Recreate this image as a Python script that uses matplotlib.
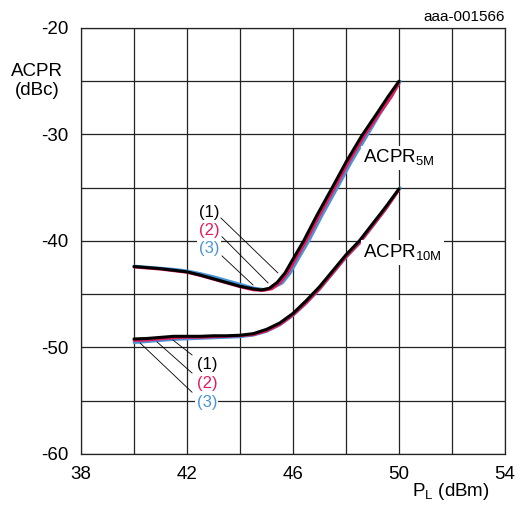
import numpy as np
import matplotlib
matplotlib.use("Agg")
import matplotlib.pyplot as plt
from matplotlib.ticker import MultipleLocator

plt.rcParams["font.family"] = ["Liberation Sans", "DejaVu Sans"]
plt.rcParams["mathtext.fontset"] = "custom"
plt.rcParams["mathtext.rm"] = "Liberation Sans"
plt.rcParams["axes.unicode_minus"] = False

BLACK = "#000000"
PINK = "#e5195e"
BLUE = "#4a95d5"

x_ticks = [38, 42, 46, 50, 54]
y_ticks = [-60, -50, -40, -30, -20]

# ACPR 5 MHz, curves (1) (2) (3)
x5_1 = [40, 40.5, 41, 41.5, 42, 42.5, 43, 43.5, 44, 44.5, 44.8, 45.1, 45.4, 45.7, 46.0, 46.4, 46.9, 47.5, 48.0, 48.6, 49.2, 49.6, 50.0]
y5_1 = [-42.4, -42.5, -42.6, -42.75, -42.9, -43.2, -43.55, -43.9, -44.25, -44.5, -44.6, -44.45, -43.9, -43.0, -41.7, -40.0, -37.6, -34.9, -32.6, -30.1, -27.9, -26.4, -25.0]
x5_2 = [40, 40.5, 41, 41.5, 42, 42.5, 43, 43.5, 44, 44.5, 44.9, 45.2, 45.5, 45.8, 46.1, 46.5, 47.0, 47.6, 48.1, 48.7, 49.3, 49.7, 50.0]
y5_2 = [-42.45, -42.55, -42.65, -42.8, -42.95, -43.25, -43.6, -43.95, -44.3, -44.6, -44.65, -44.5, -43.95, -43.0, -41.7, -40.0, -37.6, -34.9, -32.6, -30.1, -27.9, -26.5, -25.2]
x5_3 = [40, 40.5, 41, 41.5, 42, 42.5, 43, 43.5, 44, 44.5, 44.9, 45.2, 45.6, 45.9, 46.2, 46.6, 47.1, 47.7, 48.2, 48.8, 49.3, 49.7, 50.05]
y5_3 = [-42.35, -42.45, -42.55, -42.65, -42.8, -43.05, -43.35, -43.7, -44.05, -44.4, -44.55, -44.45, -43.95, -43.0, -41.7, -40.0, -37.6, -34.9, -32.6, -30.1, -28.0, -26.5, -25.0]

# ACPR 10 MHz, curves (1) (2) (3)
x10_1 = [40, 40.5, 41, 41.5, 42, 42.5, 43, 43.5, 44, 44.5, 45.0, 45.5, 46.0, 46.5, 47.0, 47.5, 48.0, 48.5, 49.0, 49.5, 50.0]
y10_1 = [-49.2, -49.15, -49.05, -48.95, -48.95, -48.95, -48.9, -48.9, -48.85, -48.7, -48.3, -47.7, -46.8, -45.6, -44.3, -42.8, -41.3, -40.0, -38.4, -36.8, -35.1]
x10_2 = [40, 40.5, 41, 41.5, 42, 42.5, 43, 43.5, 44, 44.5, 45.0, 45.5, 46.0, 46.5, 47.0, 47.5, 48.0, 48.5, 49.0, 49.5, 50.0]
y10_2 = [-49.35, -49.3, -49.2, -49.1, -49.05, -49.05, -49.0, -48.95, -48.9, -48.8, -48.45, -47.85, -46.95, -45.8, -44.5, -43.0, -41.5, -40.2, -38.6, -37.0, -35.2]
x10_3 = [40, 40.5, 41, 41.5, 42, 42.5, 43, 43.5, 44, 44.5, 45.0, 45.5, 46.0, 46.5, 47.0, 47.5, 48.0, 48.5, 49.0, 49.5, 50.05]
y10_3 = [-49.55, -49.45, -49.35, -49.25, -49.2, -49.15, -49.1, -49.05, -49.0, -48.85, -48.5, -47.9, -47.0, -45.85, -44.55, -43.05, -41.55, -40.25, -38.65, -37.0, -35.0]

fig = plt.figure(figsize=(5.25, 5.05), dpi=100)
ax = fig.add_axes([0.1543, 0.1010, 0.8076, 0.8436])

for xs, ys, col, lw in [
    (x5_3, y5_3, BLUE, 2.0), (x5_2, y5_2, PINK, 2.0), (x5_1, y5_1, BLACK, 2.2),
    (x10_3, y10_3, BLUE, 2.0), (x10_2, y10_2, PINK, 2.0), (x10_1, y10_1, BLACK, 2.2),
]:
    ax.plot(xs, ys, color=col, lw=lw, solid_capstyle="round", zorder=3)

ax.set_xlim(38, 54)
ax.set_ylim(-60, -20)
ax.set_xticks(x_ticks)
ax.set_yticks(y_ticks)
ax.xaxis.set_minor_locator(MultipleLocator(2))
ax.yaxis.set_minor_locator(MultipleLocator(5))
ax.grid(which="both", color="#222222", lw=0.9, zorder=1)
ax.tick_params(which="both", length=0, labelsize=13.5)
ax.tick_params(axis="x", pad=9)
ax.tick_params(axis="y", pad=9)
for sp in ax.spines.values():
    sp.set_color("#222222")
    sp.set_linewidth(0.9)

# leader labels, upper group
box = dict(facecolor="white", edgecolor="none", pad=1.0)
for txt, col, ty, lx, ly, ex, ey in [
    ("(1)", BLACK, -37.3, 43.28, -37.84, 45.43, -43.0),
    ("(2)", PINK, -39.0, 43.32, -39.6, 45.06, -43.94),
    ("(3)", BLUE, -40.75, 43.32, -41.4, 44.49, -44.13),
]:
    ax.text(42.83, ty, txt, color=col, fontsize=12, ha="center", va="center", bbox=box, zorder=4)
    ax.plot([lx, ex], [ly, ey], color=BLACK, lw=0.6, zorder=4)

# lower group
for txt, col, ty, lx, ly, ex, ey in [
    ("(1)", BLACK, -51.6, 42.19, -50.7, 41.47, -49.3),
    ("(2)", PINK, -53.35, 42.19, -52.4, 40.87, -49.48),
    ("(3)", BLUE, -55.2, 42.19, -54.2, 40.23, -49.58),
]:
    ax.text(42.75, ty, txt, color=col, fontsize=12, ha="center", va="center", bbox=box, zorder=4)
    ax.plot([lx, ex], [ly, ey], color=BLACK, lw=0.6, zorder=4)

ax.text(48.64, -32.2, "ACPR$_{\\mathrm{5M}}$", fontsize=13.5, ha="left", va="center",
        bbox=dict(facecolor="white", edgecolor="none", pad=1.5), zorder=4)
ax.text(48.64, -41.1, "ACPR$_{\\mathrm{10M}}$", fontsize=13.5, ha="left", va="center",
        bbox=dict(facecolor="white", edgecolor="none", pad=1.5), zorder=4)

fig.text(37 / 525, 1 - 81 / 505, "ACPR\n(dBc)", fontsize=13.5, ha="center", va="center", linespacing=1.15)
fig.text(490 / 525, 1 - 492 / 505, "P$_{\\mathrm{L}}$ (dBm)", fontsize=13.5, ha="right", va="center")
fig.text(505 / 525, 1 - 17 / 505, "aaa-001566", fontsize=11, ha="right", va="center")

fig.savefig("out.png", dpi=100)
